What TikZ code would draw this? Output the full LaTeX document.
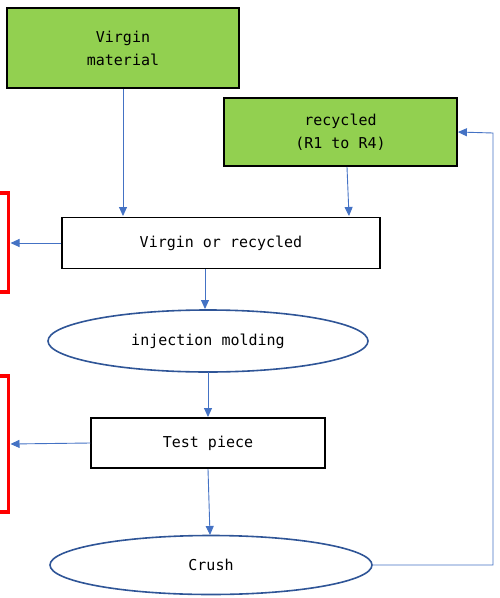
\documentclass[tikz,border=0pt]{standalone}
\usepackage{fontspec}
\setmonofont{DejaVu Sans Mono}
\usetikzlibrary{arrows.meta,shapes.geometric}
\definecolor{lgreen}{HTML}{92D050}
\definecolor{ablue}{HTML}{4472C4}
\definecolor{dblue}{HTML}{2F5597}
\tikzset{
  txt/.style={font=\ttfamily\fontsize{15}{23}\selectfont, align=center, inner sep=0pt},
  greenbox/.style={txt, draw=black, line width=1.8pt, fill=lgreen},
  whitebox/.style={txt, draw=black, line width=1.5pt, fill=white},
  oval/.style={txt, ellipse, draw=dblue, line width=1.6pt, fill=white},
  conn/.style={draw=ablue, line width=0.9pt, -{Triangle[length=9pt,width=8pt]}},
  bracket/.style={draw=red, line width=3.5pt}
}
\begin{document}
\begin{tikzpicture}[x=1pt,y=-1pt]
\useasboundingbox (0,0) rectangle (500,598);
\node[greenbox, minimum width=232pt, minimum height=80pt] (vm) at (123,48) {Virgin\\material};
\node[greenbox, minimum width=233pt, minimum height=68pt] (rc) at (340.5,132) {recycled\\(R1 to R4)};
\node[whitebox, minimum width=318pt, minimum height=51pt] (vr) at (221,243) {Virgin or recycled};
\node[oval, minimum width=320pt, minimum height=62pt] (im) at (208,341) {injection molding};
\node[whitebox, minimum width=234pt, minimum height=50pt] (tp) at (208,443) {Test piece};
\node[oval, minimum width=322pt, minimum height=59pt] (cr) at (211,565) {Crush};
% brackets
\draw[bracket] (-2,193) -- (8.5,193) -- (8.5,292) -- (-2,292);
\draw[bracket] (-2,376) -- (8.5,376) -- (8.5,512) -- (-2,512);
\coordinate (b1) at (10.5,243);
\coordinate (b2) at (10.5,444);
% connectors
\draw[conn] (vm.south -| 123,0) -- (123,216);
\draw[conn] (347,167) -- (349,216);
\draw[conn] (vr.west) -- (b1);
\draw[conn] (205,269) -- (205,309);
\draw[conn] (208,372) -- (208,417);
\draw[conn] (tp.west) -- (b2);
\draw[conn] (208,469) -- (210,535);
\draw[conn] (cr.east) -- (493,565) -- (493,133) -- (rc.east);
\end{tikzpicture}
\end{document}
